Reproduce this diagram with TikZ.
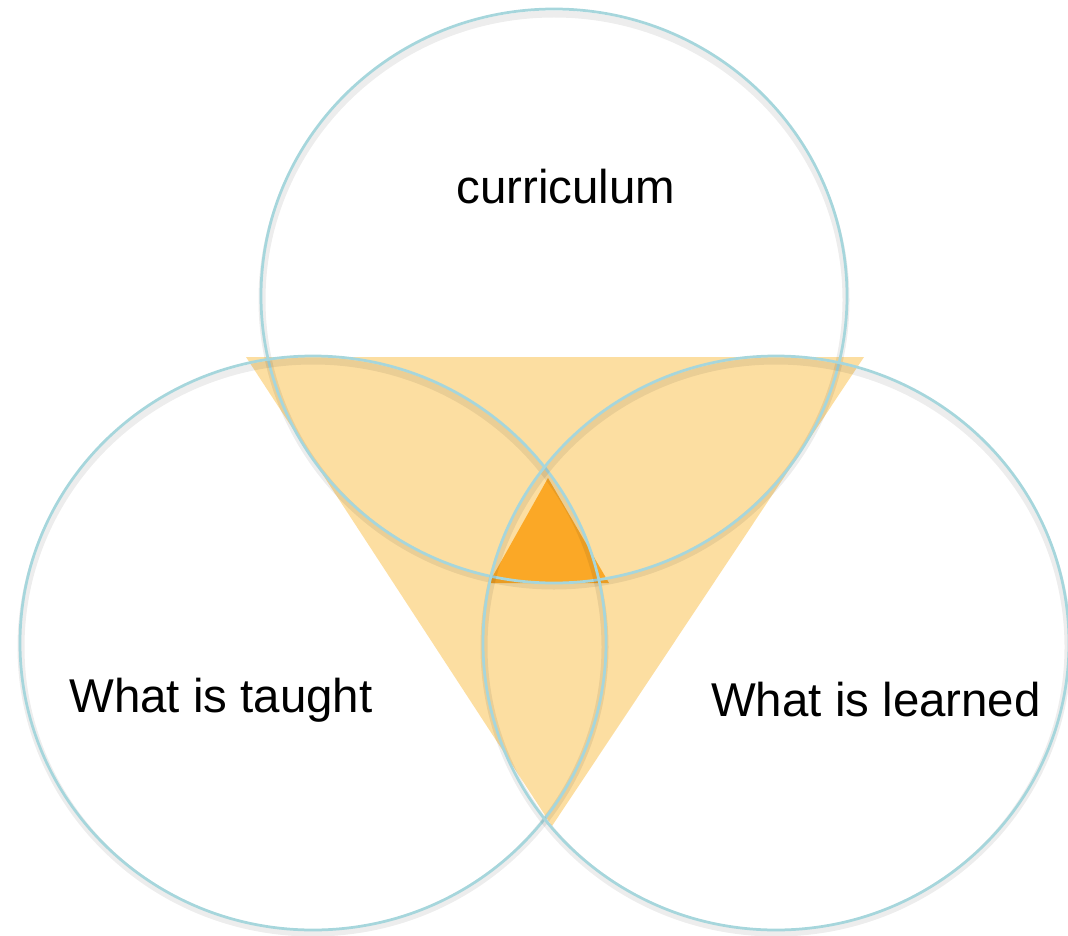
\documentclass[tikz,border=0pt]{standalone}
\usepackage{fontspec}
\setmainfont{Liberation Sans}
\usepackage{tikz}

\definecolor{ringblue}{RGB}{166,214,220}
\definecolor{paleorange}{RGB}{252,222,161}
\definecolor{deeporange}{RGB}{251,168,38}

\tikzset{
  ring/.style={draw=ringblue, line width=0.055cm},
  ringshadow/.style={draw=black, opacity=0.07, line width=0.14cm},
  venntext/.style={font=\fontsize{27}{32}\selectfont, inner sep=0pt}
}

\begin{document}
\begin{tikzpicture}[x=0.02cm, y=-0.02cm]
				\useasboundingbox (0,0) rectangle (1068,936);
				% Triangles
				\fill[paleorange] (246,357) -- (864,357) -- (552,826) -- cycle;
				\fill[deeporange] (548,478) -- (489,583) -- (609,583) -- cycle;
				% Circles
				\foreach \cx/\cy in {554/296, 313/643, 776/643} {
					\draw[ringshadow] (\cx,\cy+4) ellipse [x radius=292, y radius=286];
					\draw[ring] (\cx,\cy) ellipse [x radius=293, y radius=287];
				}
				% Labels
				\node[venntext] (curr) at (566,187) {curriculum};
				\node[venntext] (taught) at (221,700) {What is taught};
				\node[venntext] (learned) at (876,700) {What is learned};
			\end{tikzpicture}
\end{document}
